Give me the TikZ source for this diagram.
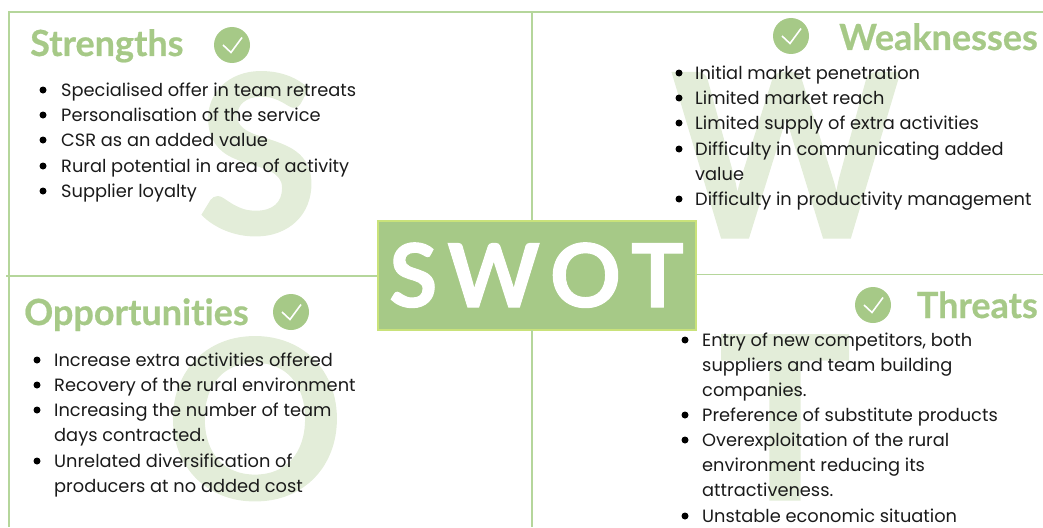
\documentclass[tikz,border=0pt]{standalone}
\usepackage{fontspec}
\setmainfont{Poppins}
\newfontfamily\latofont{Lato}[BoldFeatures={FakeBold=0.6},Ligatures=NoCommon]
\newfontfamily\latocore{Lato}[BoldFeatures={FakeBold=1.2}]
\definecolor{swgreen}{HTML}{A6C987}
\definecolor{swline}{HTML}{B5D69B}
\definecolor{swedge}{HTML}{C9E27A}
\definecolor{swghost}{HTML}{E3EDD9}
\definecolor{swtext}{HTML}{1A1A1A}
\newcommand{\bodysize}{\fontsize{17.8}{25.2}\selectfont}
\tikzset{
  x=1pt,y=-1pt,
  rule/.style={draw=swline,line width=1.6pt},
  ghost/.style={inner sep=0,text=swghost,font=\latofont\bfseries\fontsize{222}{222}\selectfont},
  heading/.style={inner sep=0,text=swgreen,font=\latofont\bfseries\fontsize{36}{36}\selectfont},
  ticked/.style={circle,fill=swgreen,minimum size=36pt,inner sep=0},
  tickline/.style={draw=white,line width=1.6pt},
  itemdot/.style={circle,fill=black,minimum size=7pt,inner sep=0},
  textline/.style={inner sep=0,anchor=base west,text=swtext,font=\bodysize},
  core/.style={draw=swedge,line width=2pt,fill=swgreen,minimum width=318pt,minimum height=109pt,inner sep=0},
  coretext/.style={inner sep=0,text=white,font=\latocore\bfseries\fontsize{88}{88}\selectfont}
}
\newcommand{\swtick}[2]{%
  \node[ticked] (#1) at (#2) {};
  \draw[tickline] ([shift={(-9,0)}]#1.center) -- ([shift={(-1,7.5)}]#1.center) -- ([shift={(10,-7.5)}]#1.center);
}
\begin{document}
\begin{tikzpicture}
\useasboundingbox (0,0) rectangle (1043,527);
\clip (0,0) rectangle (1043,527);
% ghost letters
\node[ghost,anchor=base] (gs) at (258,234) {S};
\node[ghost,anchor=base] (gw) at (786,238) {\scalebox{0.99}[1.03]{W}};
\node[ghost,anchor=base] (go) at (255,499) {O};
\node[ghost,anchor=base] (gt) at (785,500) {\scalebox{1}[1.03]{T}};
% frame
\coordinate (tl) at (8,12);
\coordinate (tr) at (1043,12);
\coordinate (bl) at (9,527);
\coordinate (tm) at (532,12);
\coordinate (bm) at (532,527);
\coordinate (ml) at (6,276);
\coordinate (mr) at (1043,274.5);
\node[core] (swot) at (536.5,275) {};
\draw[rule] (tl) -- (tr);
\draw[rule] (9,12) -- (bl);
\draw[rule] (tm) -- (532,220);
\draw[rule] (532,330) -- (bm);
\draw[rule] (ml) -- (377,276);
\draw[rule] (696,274.5) -- (mr);
\node[coretext,anchor=base] (swottext) at (536.5,307) {S\kern10pt W\kern10pt O\kern10pt T};
% Strengths
\node[heading,anchor=base west] (hs) at (30,56) {Strengths};
\swtick{cs}{232,45}
\foreach \y/\t [count=\i] in {96/Specialised offer in team retreats,121/Personalisation of the service,146/CSR as an added value,172/Rural potential in area of activity,197/Supplier loyalty}{
  \node[itemdot] (sd\i) at (43,\y-6) {};
  \node[textline] (st\i) at (61,\y) {\t};
}
% Weaknesses
\node[heading,anchor=base east] (hw) at (1038,50) {Weaknesses};
\swtick{cw}{791,36}
\foreach \y in {79,104,129,155,205}{ \node[itemdot] at (679,\y-6) {}; }
\node[textline] (w1) at (695,79) {Initial market penetration};
\node[textline] (w2) at (695,104) {Limited market reach};
\node[textline] (w3) at (695,129) {Limited supply of extra activities};
\node[textline] (w4) at (695,155) {Difficulty in communicating added};
\node[textline] (w5) at (695,180) {value};
\node[textline] (w6) at (695,205) {Difficulty in productivity management};
% Opportunities
\node[heading,anchor=base west] (ho) at (24,325) {Opportunities};
\swtick{co}{291,312}
\foreach \y in {366,391,416,467}{ \node[itemdot] at (37,\y-6) {}; }
\node[textline] (o1) at (54,366) {Increase extra activities offered};
\node[textline] (o2) at (54,391) {Recovery of the rural environment};
\node[textline] (o3) at (54,416) {Increasing the number of team};
\node[textline] (o4) at (54,441) {days contracted.};
\node[textline] (o5) at (54,467) {Unrelated diversification of};
\node[textline] (o6) at (54,492) {producers at no added cost};
% Threats
\node[heading,anchor=base east] (ht) at (1038,318) {Threats};
\swtick{ct}{873,305}
\foreach \y in {346,421,446,522}{ \node[itemdot] at (685,\y-6) {}; }
\node[textline] (t1) at (702,346) {Entry of new competitors, both};
\node[textline] (t2) at (702,371) {suppliers and team building};
\node[textline] (t3) at (702,396) {companies.};
\node[textline] (t4) at (702,421) {Preference of substitute products};
\node[textline] (t5) at (702,446) {Overexploitation of the rural};
\node[textline] (t6) at (702,471) {environment reducing its};
\node[textline] (t7) at (702,496) {attractiveness.};
\node[textline] (t8) at (702,522) {Unstable economic situation};
\end{tikzpicture}
\end{document}
